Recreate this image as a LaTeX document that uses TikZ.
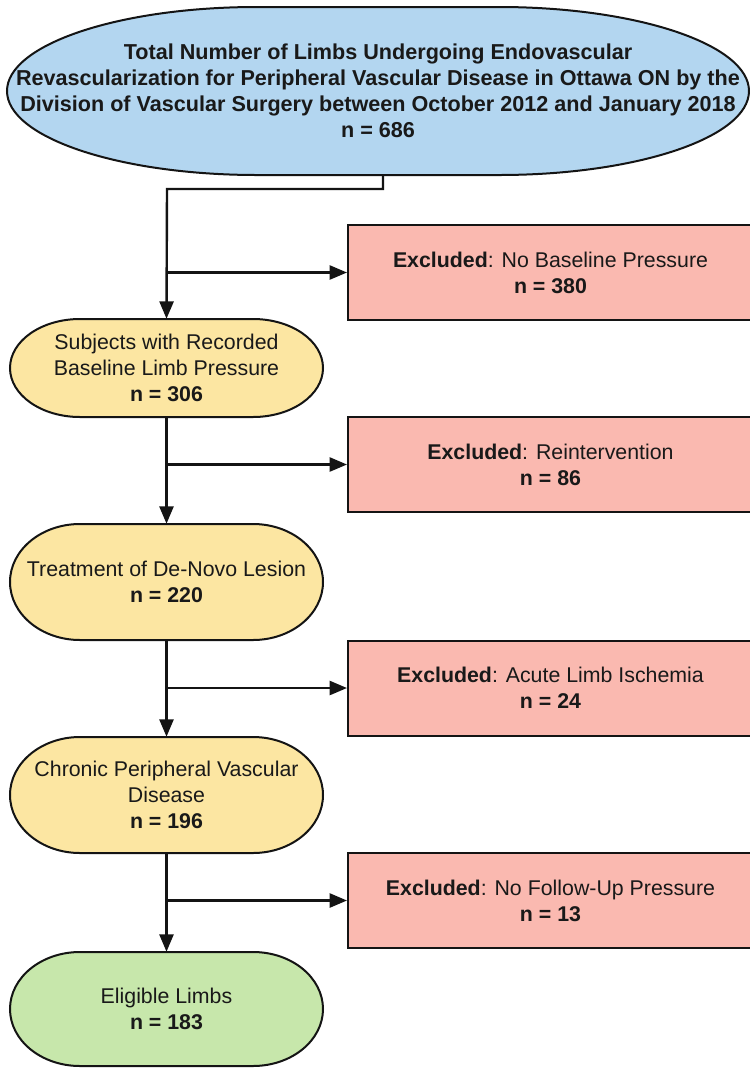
\documentclass[tikz,border=0pt]{standalone}
\usepackage{fontspec}
\setmainfont{Liberation Sans}
\usetikzlibrary{arrows.meta,calc}
\definecolor{blueF}{RGB}{179,214,240}
\definecolor{redF}{RGB}{250,185,176}
\definecolor{yellowF}{RGB}{252,230,162}
\definecolor{greenF}{RGB}{199,231,171}
\definecolor{lineC}{RGB}{20,20,20}
\definecolor{textC}{RGB}{25,25,25}
% x1, y1, x2, y2, fill, end x-radius
\newcommand\termshape[6]{%
  \filldraw[fill=#5, draw=lineC, line width=1.5pt]
   ({#1+#6},#2) -- ({#3-#6},#2)
   arc[start angle=-90,end angle=90,x radius=#6,y radius={(#4-#2)/2}]
   -- ({#1+#6},#4)
   arc[start angle=90,end angle=270,x radius=#6,y radius={(#4-#2)/2}]
   -- cycle;}
\begin{document}
\begin{tikzpicture}[x=0.75pt,y=-0.75pt,
  txt/.style={align=center, text=textC, font=\fontsize{16}{19.5}\selectfont, inner sep=0pt},
  termnode/.style={txt, minimum width=234.75pt},
  conn/.style={line width=1.8pt, draw=lineC},
  arr/.style={conn, -{Triangle[length=13pt,width=10.5pt]}},
  exbox/.style={txt, draw=lineC, line width=1.5pt, fill=redF, anchor=west,
     minimum width=303.75pt, minimum height=71.25pt}]
\useasboundingbox (0,0) rectangle (750,1068);
\fill[white] (0,0) rectangle (750,1068);

% top rounded oval
\termshape{7}{7}{749}{175}{blueF}{250}
\node[txt, minimum width=556.5pt, minimum height=126pt, font=\bfseries\fontsize{16.2}{19.6}\selectfont]
  (top) at (378,91)
  {Total Number of Limbs Undergoing Endovascular\\
   Revascularization for Peripheral Vascular Disease in Ottawa ON by the\\
   Division of Vascular Surgery between October 2012 and January 2018\\
   n = 686};

% terminals
\termshape{10}{319}{323}{417}{yellowF}{70}
\node[termnode, minimum height=73.5pt] (s1) at (166.5,368)
  {Subjects with Recorded\\Baseline Limb Pressure\\\textbf{n = 306}};
\termshape{10}{524}{323}{640}{yellowF}{70}
\node[termnode, minimum height=87pt] (s2) at (166.5,582)
  {Treatment of De-Novo Lesion\\\textbf{n = 220}};
\termshape{10}{737}{323}{853}{yellowF}{70}
\node[termnode, minimum height=87pt] (s3) at (166.5,795)
  {Chronic Peripheral Vascular\\Disease\\\textbf{n = 196}};
\termshape{10}{952}{323}{1066}{greenF}{70}
\node[termnode, minimum height=85.5pt] (s4) at (166.5,1009)
  {Eligible Limbs\\\textbf{n = 183}};

% excluded boxes
\node[exbox] (e1) at (347,272.5) {\textbf{Excluded}: No Baseline Pressure\\\textbf{n = 380}};
\node[exbox] (e2) at (347,464.5) {\textbf{Excluded}: Reintervention\\\textbf{n = 86}};
\node[exbox] (e3) at (347,688) {\textbf{Excluded}: Acute Limb Ischemia\\\textbf{n = 24}};
\node[exbox] (e4) at (347,900.5) {\textbf{Excluded}: No Follow-Up Pressure\\\textbf{n = 13}};

% connectors
\coordinate (j1) at (167,189);
\draw[arr] ($(top.south)+(5,0)$) |- (j1) -- (s1.north);
\draw[arr] (j1 |- e1.west) -- (e1.west);
\draw[arr] (s1.south) -- (s2.north);
\draw[arr] (s1.south |- e2.west) -- (e2.west);
\draw[arr] (s2.south) -- (s3.north);
\draw[arr] (s2.south |- e3.west) -- (e3.west);
\draw[arr] (s3.south) -- (s4.north);
\draw[arr] (s3.south |- e4.west) -- (e4.west);
\end{tikzpicture}
\end{document}
